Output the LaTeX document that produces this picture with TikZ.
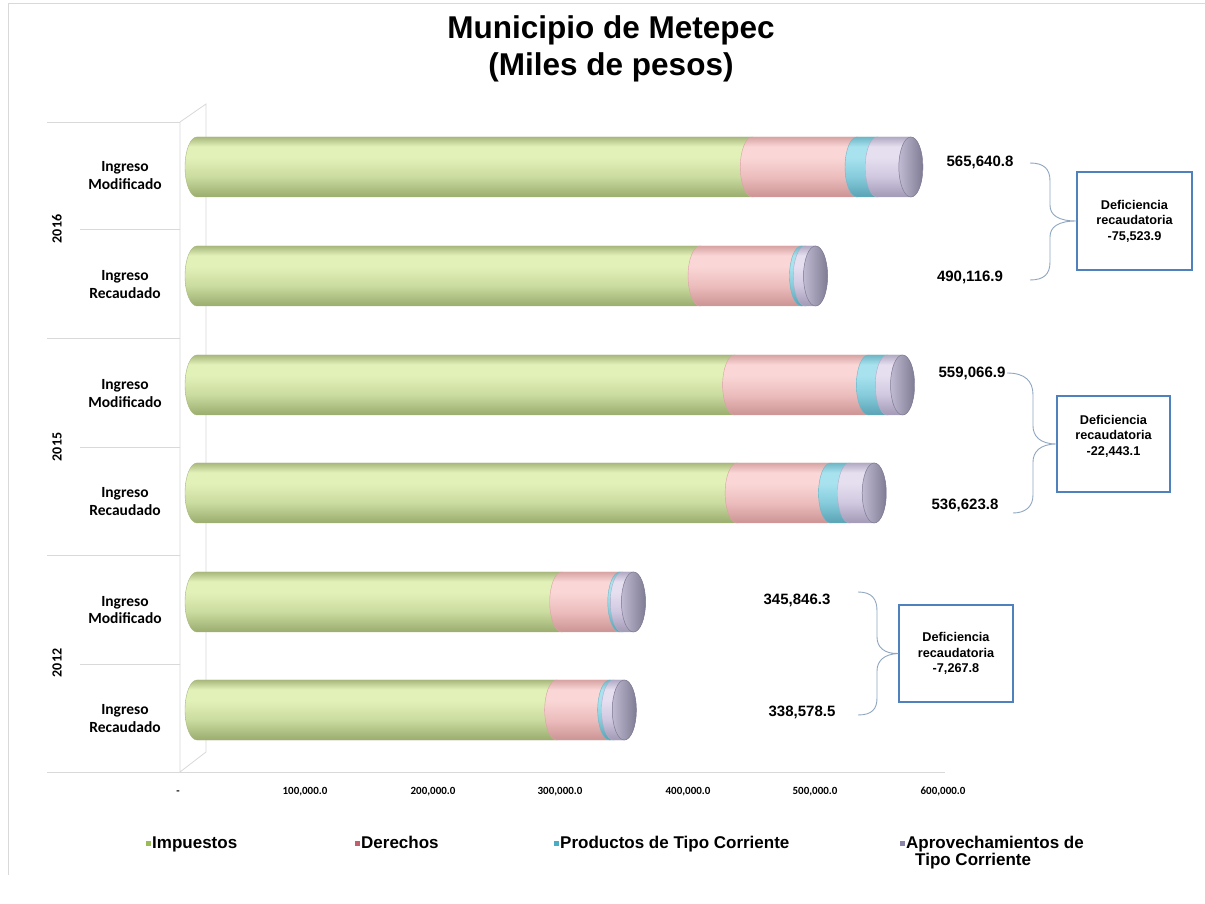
\documentclass[tikz,border=0pt]{standalone}
\usepackage{fontspec}
\setmainfont{Liberation Sans}
\newfontfamily\calfont{Carlito}
\definecolor{gT}{HTML}{A9B97E}\definecolor{gL}{HTML}{E2F1B8}\definecolor{gM}{HTML}{CBDCA0}\definecolor{gD}{HTML}{9AAC6E}
\definecolor{pT}{HTML}{D8A4A4}\definecolor{pL}{HTML}{FAD6D6}\definecolor{pM}{HTML}{EDBDBD}\definecolor{pD}{HTML}{CC9494}
\definecolor{cT}{HTML}{6FB6C6}\definecolor{cL}{HTML}{A8E2EE}\definecolor{cM}{HTML}{86CCDC}\definecolor{cD}{HTML}{5AA3B4}
\definecolor{vT}{HTML}{B2AAC4}\definecolor{vL}{HTML}{E6DFF0}\definecolor{vM}{HTML}{D0C8E0}\definecolor{vD}{HTML}{A29AB6}
\definecolor{eL}{HTML}{C0BAD2}\definecolor{eD}{HTML}{7E7C94}
\definecolor{wallc}{HTML}{D9D9D9}
\definecolor{bracec}{HTML}{8FA6C0}
\definecolor{boxc}{HTML}{4F81BD}
\definecolor{lgG}{HTML}{9BBB59}\definecolor{lgP}{HTML}{C0606E}
\definecolor{lgC}{HTML}{4BACC6}\definecolor{lgV}{HTML}{8C84A8}
\pgfdeclareverticalshading{gshade}{100bp}{color(0bp)=(gD); color(25bp)=(gD); color(42bp)=(gM); color(58bp)=(gL); color(67bp)=(gL); color(75bp)=(gT); color(100bp)=(gT)}
\pgfdeclareverticalshading{pshade}{100bp}{color(0bp)=(pD); color(25bp)=(pD); color(42bp)=(pM); color(58bp)=(pL); color(67bp)=(pL); color(75bp)=(pT); color(100bp)=(pT)}
\pgfdeclareverticalshading{cshade}{100bp}{color(0bp)=(cD); color(25bp)=(cD); color(42bp)=(cM); color(58bp)=(cL); color(67bp)=(cL); color(75bp)=(cT); color(100bp)=(cT)}
\pgfdeclareverticalshading{vshade}{100bp}{color(0bp)=(vD); color(25bp)=(vD); color(42bp)=(vM); color(58bp)=(vL); color(67bp)=(vL); color(75bp)=(vT); color(100bp)=(vT)}
\tikzset{
  segstyle/.style 2 args={shading=#1, draw=#2, line width=0.4pt},
  endface/.style={draw=eD, line width=0.5pt, left color=eL, right color=eD},
  wallline/.style={draw=wallc, line width=0.8pt},
  catlabel/.style={font=\calfont\bfseries\fontsize{15.5}{17.5}\selectfont, align=center, inner sep=0pt},
  yearlabel/.style={font=\calfont\bfseries\fontsize{14}{16}\selectfont, rotate=90, inner sep=0pt},
  ticklabel/.style={font=\calfont\bfseries\fontsize{11}{13}\selectfont, inner sep=0pt, anchor=base},
  vallabel/.style={font=\bfseries\fontsize{15}{18}\selectfont, inner sep=0pt},
  defbox/.style={draw=boxc, line width=1.2pt, align=center, inner sep=0pt,
    font=\bfseries\fontsize{12.7}{15.5}\selectfont},
  bracestyle/.style={draw=bracec, line width=0.9pt},
  legtext/.style={font=\bfseries\fontsize{17}{17}\selectfont, anchor=base west, inner sep=0pt, align=left},
  legmark/.style={minimum size=6pt, inner sep=0pt, draw=white, line width=0.4pt},
}
\newcommand\cylseg[5]{\path[segstyle={#4}{#5}] (#2,#1+30) -- (#3,#1+30)
  arc[start angle=90,end angle=-90,x radius=12,y radius=30] -- (#2,#1-30)
  arc[start angle=270,end angle=90,x radius=12,y radius=30] -- cycle;}
\newcommand\cylbar[5]{%
  \pgfmathsetmacro\bxA{197+1.262*#2}%
  \pgfmathsetmacro\bxB{197+1.262*#3}%
  \pgfmathsetmacro\bxC{197+1.262*#4}%
  \pgfmathsetmacro\bxD{197+1.262*#5}%
  \cylseg{#1}{197}{\bxA}{gshade}{gT}
  \cylseg{#1}{\bxA}{\bxB}{pshade}{pT}
  \cylseg{#1}{\bxB}{\bxC}{cshade}{cT}
  \cylseg{#1}{\bxC}{\bxD}{vshade}{vT}
  \path[endface] (\bxD,#1) ellipse[x radius=12,y radius=30];}
\begin{document}
\begin{tikzpicture}[x=1pt,y=1pt]
\useasboundingbox (0,0) rectangle (1205,903);
\fill[white] (0,0) rectangle (1205,903);
% outer frame
\draw[wallc, line width=1pt] (8,28) -- (8,899) -- (1205,899);
% title
\node[font=\bfseries\fontsize{31.5}{37}\selectfont, align=center] (title) at (611,854.5) {Municipio de Metepec\\(Miles de pesos)};
% 3D wall and floor
\draw[wallline] (180,131) -- (180,781) -- (206,799) -- (206,151) -- (180,131);
\draw[wallline] (47,781) -- (180,781);
\draw[wallline] (80,674) -- (180,674);
\draw[wallline] (47,565) -- (180,565);
\draw[wallline] (80,456) -- (180,456);
\draw[wallline] (47,348) -- (180,348);
\draw[wallline] (80,239) -- (180,239);
\draw[wallline] (47,131) -- (945,131);
% bars
\cylbar{736}{440}{523}{539}{565.6408}
\cylbar{627}{398.6}{479}{482}{490.1169}
\cylbar{518}{426}{532}{547}{559.0669}
\cylbar{410}{428}{502}{517}{536.6238}
\cylbar{301}{289}{335}{337}{345.8463}
\cylbar{193}{285}{327}{330}{338.5785}
% category labels
\node[catlabel] (c1) at (125,727.5) {Ingreso\\Modificado};
\node[catlabel] (c2) at (125,618.5) {Ingreso\\Recaudado};
\node[catlabel] (c3) at (125,509.5) {Ingreso\\Modificado};
\node[catlabel] (c4) at (125,401.5) {Ingreso\\Recaudado};
\node[catlabel] (c5) at (125,293) {Ingreso\\Modificado};
\node[catlabel] (c6) at (125,184.5) {Ingreso\\Recaudado};
\node[yearlabel] (y16) at (57,674) {2016};
\node[yearlabel] (y15) at (57,456) {2015};
\node[yearlabel] (y12) at (57,240) {2012};
% tick labels
\node[ticklabel] (t0) at (178,109) {-};
\node[ticklabel] (t1) at (305,109) {100,000.0};
\node[ticklabel] (t2) at (433,109) {200,000.0};
\node[ticklabel] (t3) at (560,109) {300,000.0};
\node[ticklabel] (t4) at (688,109) {400,000.0};
\node[ticklabel] (t5) at (815,109) {500,000.0};
\node[ticklabel] (t6) at (943,109) {600,000.0};
% value labels
\node[vallabel] (v1) at (980,741) {565,640.8};
\node[vallabel] (v2) at (970,626) {490,116.9};
\node[vallabel] (v3) at (972,530) {559,066.9};
\node[vallabel] (v4) at (965,398) {536,623.8};
\node[vallabel] (v5) at (797,303) {345,846.3};
\node[vallabel] (v6) at (802,191) {338,578.5};
% boxes
\node[defbox, minimum width=115pt, minimum height=98pt] (d16) at (1134.5,682) {Deficiencia\\recaudatoria\\-75,523.9};
\node[defbox, minimum width=113pt, minimum height=96pt] (d15) at (1113.5,459) {Deficiencia\\recaudatoria\\-22,443.1\\[2pt]~};
\node[defbox, minimum width=114pt, minimum height=97pt] (d12) at (956,249.5) {Deficiencia\\recaudatoria\\-7,267.8};
% braces
\coordinate (b16t) at (1030,740); \coordinate (b16b) at (1030,623);
\coordinate (b15t) at (1007,530); \coordinate (b15b) at (1013,390);
\coordinate (b12t) at (858,311);  \coordinate (b12b) at (858,188);
\draw[bracestyle] (b16t) .. controls (1044,740) and (1050,734) .. (1050,722) -- (1050,698)
  .. controls (1050,688) and (1058,682) .. (d16.west)
  .. controls (1058,682) and (1050,676) .. (1050,666) -- (1050,641)
  .. controls (1050,629) and (1044,623) .. (b16b);
\draw[bracestyle] (b15t) .. controls (1025,530) and (1033,522) .. (1033,508) -- (1033,477)
  .. controls (1033,467) and (1040,459) .. (d15.west)
  .. controls (1040,459) and (1033,451) .. (1033,441) -- (1033,408)
  .. controls (1033,396) and (1025,390) .. (b15b);
\draw[bracestyle] (b12t) .. controls (872,311) and (877,304) .. (877,292) -- (877,266)
  .. controls (877,256) and (884,249) .. (d12.west)
  .. controls (884,249) and (877,242) .. (877,232) -- (877,205)
  .. controls (877,194) and (872,188) .. (b12b);
% legend
\node[legmark, fill=lgG] (m1) at (148,60) {};
\node[legtext] (l1) at (152,54.5) {Impuestos};
\node[legmark, fill=lgP] (m2) at (357,60) {};
\node[legtext] (l2) at (361,54.5) {Derechos};
\node[legmark, fill=lgC] (m3) at (556,60) {};
\node[legtext] (l3) at (560,54.5) {Productos de Tipo Corriente};
\node[legmark, fill=lgV] (m4) at (902,60) {};
\node[legtext, anchor=north west] (l4) at (906,66.9) {Aprovechamientos de\\\hspace*{9pt}Tipo Corriente};
\end{tikzpicture}
\end{document}
